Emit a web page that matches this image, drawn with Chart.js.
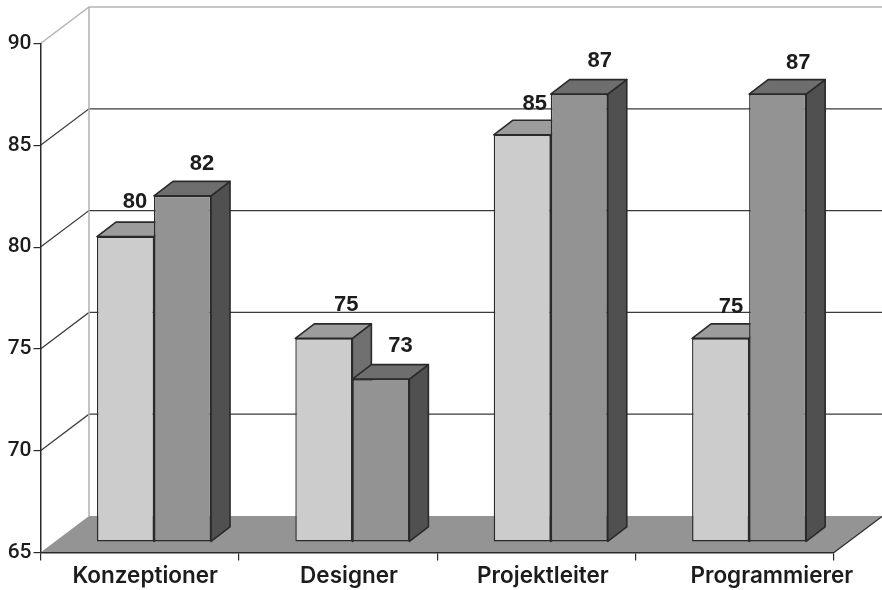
<!DOCTYPE html>
<html>
<head>
<meta charset="utf-8">
<title>Konzeptioner, Designer, Projektleiter, Programmierer</title>
<script src="https://cdn.jsdelivr.net/npm/chart.js@4"></script>
<style>
    html, body { margin: 0; padding: 0; background: #fff; }
    canvas { display: block; }
</style>
</head>
<body>
<canvas id="barChart" width="882" height="590"></canvas>
<script>
// Chart data
const categories = ['Konzeptioner', 'Designer', 'Projektleiter', 'Programmierer'];
const lightValues = [80, 75, 85, 75];
const darkValues = [82, 73, 87, 87];
const yTicks = [65, 70, 75, 80, 85, 90];

// Depth of the room and of the bars
const wallDepth = { x: 48.5, y: -36.5 };
const barShift = { x: 14.3, y: -10.5 };
const barDepth = { x: 19, y: -14.5 };

// Hand placed label nudges
const categoryLabelShift = [5.5, 11, 6.5, 37];
const lightLabelShift = [
    { x: 9.5, y: -34.5 }, { x: 22.5, y: -33.5 }, { x: 12.5, y: -30.5 }, { x: 10.5, y: -31.5 }
];
const darkLabelShift = [
    { x: 19.5, y: -31.5 }, { x: 19.5, y: -33.5 }, { x: 20.5, y: -33.5 }, { x: 20.5, y: -31.5 }
];

const lineColor = '#2a2a2a';
const textColor = '#1c1c1c';

// Floor, back wall and grid lines behind the bars
function drawRoom(chart) {
    const { ctx, chartArea, scales } = chart;
    const y = scales.y;
    const left = chartArea.left;
    const right = chartArea.right;
    const bottom = chartArea.bottom;

    ctx.save();
    ctx.fillStyle = '#949494';
    ctx.beginPath();
    ctx.moveTo(left, bottom);
    ctx.lineTo(left + wallDepth.x, bottom + wallDepth.y);
    ctx.lineTo(right + wallDepth.x, bottom + wallDepth.y);
    ctx.lineTo(right, bottom);
    ctx.closePath();
    ctx.fill();

    yTicks.forEach(tick => {
        const py = y.getPixelForValue(tick);
        const isTop = tick === yTicks[yTicks.length - 1];
        if (tick === yTicks[0]) return;
        ctx.strokeStyle = isTop ? '#b4b4b4' : '#3a3a3a';
        ctx.lineWidth = isTop ? 1.5 : 1.2;
        ctx.beginPath();
        ctx.moveTo(left, py);
        ctx.lineTo(left + wallDepth.x, py + wallDepth.y);
        ctx.lineTo(right + wallDepth.x, py + wallDepth.y);
        ctx.stroke();
    });

    // Left edge of the back wall
    ctx.strokeStyle = '#b0b0b0';
    ctx.lineWidth = 1.5;
    ctx.beginPath();
    ctx.moveTo(left + wallDepth.x, y.getPixelForValue(90) + wallDepth.y);
    ctx.lineTo(left + wallDepth.x, bottom + wallDepth.y);
    ctx.stroke();

    // Right edge of the floor
    ctx.strokeStyle = lineColor;
    ctx.lineWidth = 1.2;
    ctx.beginPath();
    ctx.moveTo(right, bottom);
    ctx.lineTo(right + wallDepth.x, bottom + wallDepth.y);
    ctx.stroke();
    ctx.restore();
}

// Top and side faces of one dataset, using the positions of its bars
function drawBarFaces(chart, meta) {
    const ctx = chart.ctx;
    const colors = chart.data.datasets[meta.index].faceColors;

    meta.data.forEach(bar => {
        const half = bar.width / 2;
        const l = bar.x - half;
        const r = bar.x + half;

        ctx.fillStyle = colors.side;
        ctx.beginPath();
        ctx.moveTo(r, bar.y);
        ctx.lineTo(r + barDepth.x, bar.y + barDepth.y);
        ctx.lineTo(r + barDepth.x, bar.base + barDepth.y);
        ctx.lineTo(r, bar.base);
        ctx.closePath();
        ctx.fill();
        ctx.stroke();

        ctx.fillStyle = colors.top;
        ctx.beginPath();
        ctx.moveTo(l, bar.y);
        ctx.lineTo(l + barDepth.x, bar.y + barDepth.y);
        ctx.lineTo(r + barDepth.x, bar.y + barDepth.y);
        ctx.lineTo(r, bar.y);
        ctx.closePath();
        ctx.fill();
        ctx.stroke();
    });
}

// Value labels above the bars and category names under the axis
function drawLabels(chart) {
    const { ctx, scales } = chart;

    ctx.save();
    ctx.fillStyle = textColor;
    ctx.textAlign = 'center';
    ctx.textBaseline = 'middle';

    ctx.font = 'bold 22px "Liberation Sans"';
    chart.data.datasets.forEach((dataset, index) => {
        const shifts = index === 0 ? lightLabelShift : darkLabelShift;
        chart.getDatasetMeta(index).data.forEach((bar, i) => {
            ctx.fillText(String(dataset.data[i]),
                bar.x + barShift.x + shifts[i].x,
                bar.y + barShift.y + shifts[i].y);
        });
    });

    ctx.font = '600 22.5px Inter';
    categories.forEach((name, i) => {
        ctx.fillText(name, scales.x.getPixelForValue(i) + categoryLabelShift[i], 576);
    });
    ctx.restore();
}

const roomPlugin = {
    id: 'room',
    beforeDraw(chart) {
        drawRoom(chart);
    },
    // The light bars go down first so the dark ones can cover their side faces
    beforeDatasetsDraw(chart) {
        const ctx = chart.ctx;
        [0, 1].forEach(index => {
            const meta = chart.getDatasetMeta(index);
            ctx.save();
            ctx.translate(barShift.x, barShift.y);
            ctx.strokeStyle = lineColor;
            ctx.lineWidth = 1.6;
            ctx.lineJoin = 'round';
            drawBarFaces(chart, meta);
            meta.controller.draw();
            ctx.restore();
        });
        return false;
    },
    afterDraw(chart) {
        drawLabels(chart);
    }
};

new Chart(document.getElementById('barChart'), {
    type: 'bar',
    data: {
        labels: categories,
        datasets: [
            {
                data: lightValues,
                base: yTicks[0],
                backgroundColor: '#cccccc',
                borderColor: lineColor,
                borderWidth: 1.4,
                borderSkipped: false,
                faceColors: { top: '#9c9c9c', side: '#707070' }
            },
            {
                data: darkValues,
                base: yTicks[0],
                backgroundColor: '#939393',
                borderColor: lineColor,
                borderWidth: 1.4,
                borderSkipped: false,
                faceColors: { top: '#6e6e6e', side: '#505050' }
            }
        ]
    },
    options: {
        responsive: false,
        animation: false,
        categoryPercentage: 0.575,
        barPercentage: 1,
        layout: {
            autoPadding: false,
            padding: { left: 0, right: 48, top: 43.5, bottom: 0 }
        },
        plugins: {
            legend: { display: false },
            title: { display: false },
            tooltip: { enabled: false }
        },
        scales: {
            x: {
                afterFit: scale => { scale.height = 37.5; },
                border: { color: lineColor, width: 1.5 },
                grid: { drawOnChartArea: false, color: lineColor, lineWidth: 1.2, tickLength: 8 },
                ticks: { display: false }
            },
            y: {
                min: yTicks[0],
                max: yTicks[yTicks.length - 1],
                afterFit: scale => { scale.width = 40.5; },
                afterBuildTicks: scale => { scale.ticks = yTicks.map(value => ({ value })); },
                border: { color: lineColor, width: 1.5 },
                grid: { drawOnChartArea: false, color: lineColor, lineWidth: 1.2, tickLength: 7 },
                ticks: {
                    color: textColor,
                    padding: 2,
                    font: { family: 'Roboto', size: 21, weight: '500' }
                }
            }
        }
    },
    plugins: [roomPlugin]
});
</script>
</body>
</html>
